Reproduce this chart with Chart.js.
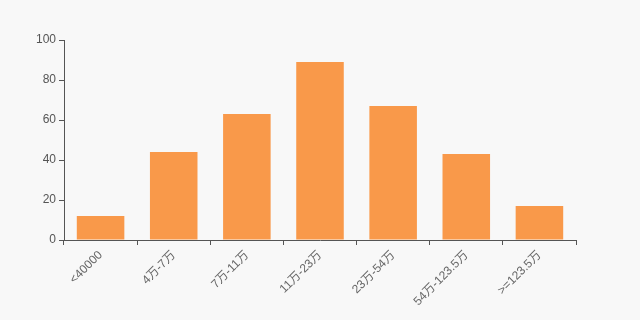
<!DOCTYPE html>
<html>
<head>
<meta charset="utf-8">
<script src="https://cdn.jsdelivr.net/npm/chart.js@4"></script>
<style>
  html, body { margin: 0; padding: 0; background: #f8f8f8; }
  #wrap { width: 640px; height: 320px; }
</style>
</head>
<body>
<div id="wrap"><canvas id="grafico"></canvas></div>
<script>
const categorias = ['<40000', '4万-7万', '7万-11万', '11万-23万', '23万-54万', '54万-123.5万', '>=123.5万'];
const valores = [12, 44, 63, 89, 67, 43, 17];
const ticksY = [0, 20, 40, 60, 80, 100];

const corEixo = '#555';
const fonte = "'Liberation Sans', Arial, 'Noto Sans CJK SC', sans-serif";

new Chart(document.getElementById('grafico'), {
    type: 'bar',
    data: {
        labels: categorias,
        datasets: [{
            data: valores,
            backgroundColor: '#f9994a',
            categoryPercentage: 0.65,
            barPercentage: 1
        }]
    },
    options: {
        responsive: true, maintainAspectRatio: false,
        animation: false,
        layout: { padding: { left: 0, right: 64, top: 40, bottom: 0 } },
        plugins: { legend: { display: false }, tooltip: { enabled: false } },
        scales: {
            x: {
                grid: { display: true, offset: true, drawOnChartArea: false, drawTicks: true, tickLength: 5, color: corEixo },
                border: { color: corEixo, width: 1 },
                ticks: {
                    color: '#666', maxRotation: 45, minRotation: 45, autoSkip: false,
                    font: { family: fonte, size: 12 }, padding: 3
                },
                afterFit: s => { s.height = 80; }
            },
            y: {
                min: 0, max: 100,
                grid: { drawOnChartArea: false, drawTicks: true, tickLength: 5, color: corEixo },
                border: { color: corEixo, width: 1 },
                afterBuildTicks: s => { s.ticks = ticksY.map(v => ({ value: v })); },
                ticks: { color: corEixo, font: { family: fonte, size: 12 }, padding: 3 },
                afterFit: s => { s.width = 64; }
            }
        }
    }
});
</script>
</body>
</html>
